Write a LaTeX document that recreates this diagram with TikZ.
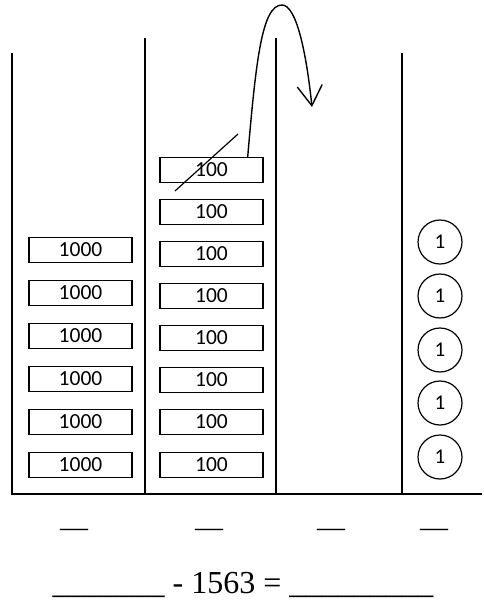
\documentclass[tikz,border=0pt]{standalone}
\usepackage{fontspec}
\setmainfont{Liberation Serif}
\newfontfamily\boxfont{Carlito}
\usetikzlibrary{arrows.meta}

\begin{document}
\begin{tikzpicture}[x=1pt,y=-1pt,line width=1.4pt,
  thousand/.style={draw,minimum width=103pt,minimum height=25pt,inner sep=0pt,font=\boxfont\fontsize{21.5}{25}\selectfont},
  hundred/.style={thousand},
  unit/.style={draw,circle,line width=1.2pt,minimum size=44pt,inner sep=0pt,font=\boxfont\fontsize{21}{24}\selectfont},
  blank/.style={anchor=base,font=\fontsize{28}{32}\selectfont}]
\useasboundingbox (0,0) rectangle (484,603);
% place value columns
\draw (12,53) -- (12,494) -- (482,494);
\draw (145,38) -- (145,494);
\draw (276,38) -- (276,494);
\draw (402,53) -- (402,494);
% thousands
\node[thousand] (th1) at (80.5,250) {1000};
\node[thousand] (th2) at (80.5,293) {1000};
\node[thousand] (th3) at (80.5,336) {1000};
\node[thousand] (th4) at (80.5,379) {1000};
\node[thousand] (th5) at (80.5,422) {1000};
\node[thousand] (th6) at (80.5,465) {1000};
% hundreds
\node[hundred] (hu1) at (211.5,465) {100};
\node[hundred] (hu2) at (211.5,422) {100};
\node[hundred] (hu3) at (211.5,380) {100};
\node[hundred] (hu4) at (211.5,338) {100};
\node[hundred] (hu5) at (211.5,296) {100};
\node[hundred] (hu6) at (211.5,254) {100};
\node[hundred] (hu7) at (211.5,212) {100};
\node[hundred] (hu8) at (211.5,170) {100};
% ones
\node[unit] (on1) at (440,242) {1};
\node[unit] (on2) at (440,296) {1};
\node[unit] (on3) at (440,350) {1};
\node[unit] (on4) at (440,403) {1};
\node[unit] (on5) at (440,457) {1};
% regroup one hundred into the tens
\draw[line width=1.2pt] (175,191) -- (238,134);
\coordinate (tens) at (312,107);
\draw[-{Straight Barb[length=20pt,width=25pt]}] ([xshift=-16pt]hu8.north east) .. controls (256,60) and (262,5) .. (282,5) .. controls (296,5) and (306,50) .. (tens);
% answer blanks
\node[blank] (b1) at (74,536) {—};
\node[blank] (b2) at (209,536) {—};
\node[blank] (b3) at (331,536) {—};
\node[blank] (b4) at (434,536) {—};
\node[anchor=base west,inner sep=0pt,font=\fontsize{32}{37}\selectfont] (eq) at (52,593) {\_\_\_\_\_\_\_ - 1563 = \_\_\_\_\_\_\_\_\_};
\end{tikzpicture}
\end{document}
